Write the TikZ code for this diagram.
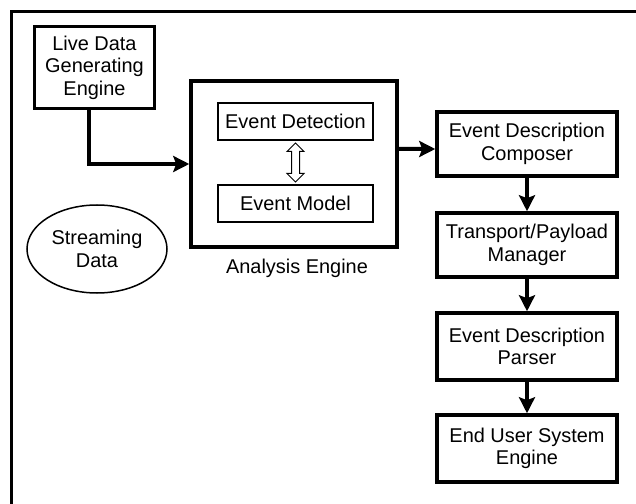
\documentclass[tikz,border=0pt]{standalone}
\usepackage{fontspec}
\setmainfont{Liberation Sans}
\usetikzlibrary{arrows.meta,shapes.geometric,shapes.arrows,calc}

\begin{document}
\begin{tikzpicture}[x=1bp,y=-1bp,
		font=\fontsize{20}{22.5}\selectfont,
		block/.style={draw,line width=3.5bp,align=center,inner sep=0pt,minimum width=180bp},
		part/.style={draw,line width=1.5bp,align=center,inner sep=0pt,minimum width=155bp,minimum height=37bp},
		flow/.style={line width=4bp,-{Stealth[length=16bp,width=16bp,inset=3bp]}}]
				\useasboundingbox (0,0) rectangle (636,504);
				% Frame
				\draw[line width=3bp] (11,504) -- (11,12) -- (636,12);
				% Source and stream
				\node[block,minimum width=120bp,minimum height=82bp] (live) at (94.5,67.5) {Live Data\\Generating\\Engine};
				\node[draw,ellipse,line width=1.5bp,minimum width=140bp,minimum height=88bp,inner sep=0pt,align=center] (stream) at (97,249) {Streaming\\Data};
				% Analysis engine
				\node[block,minimum width=206bp,minimum height=166bp] (ana) at (294,164) {};
				\node (analabel) at (297,268) {Analysis Engine};
				\node[part] (det) at (295.5,121.5) {Event Detection};
				\node[part] (mod) at (295.5,203.5) {Event Model};
				\node[double arrow,draw,line width=1bp,rotate=90,minimum height=39bp,inner sep=3.5bp,double arrow head extend=4.5bp] (link) at ($(det.south)!0.5!(mod.north)$) {};
				% Output chain
				\node[block,minimum height=64bp] (comp) at (527,144) {Event Description\\Composer};
				\node[block,minimum height=64bp] (trans) at (527,245) {Transport/Payload\\Manager};
				\node[block,minimum height=67bp] (parse) at (527,346.5) {Event Description\\Parser};
				\node[block,minimum height=67bp] (user) at (527,448.5) {End User System\\Engine};
				% Arrows
				\draw[flow] ([xshift=-6bp]live.south) |- (ana.west);
				\draw[flow] (ana.east |- comp.west) ++(0,5) -- ([yshift=-5bp]comp.west);
				\foreach \a/\b in {comp/trans,trans/parse,parse/user}
					\draw[flow] (\a) -- (\b);
			\end{tikzpicture}
\end{document}
